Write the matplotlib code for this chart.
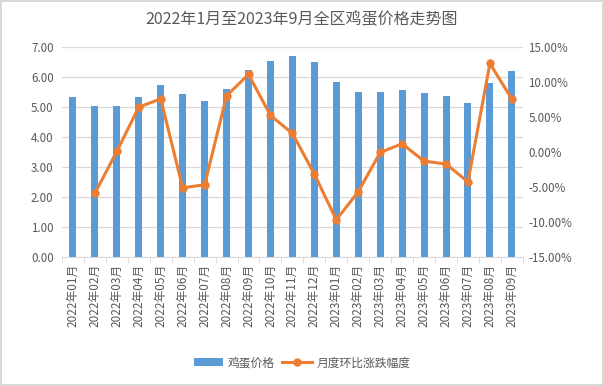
import numpy as np
import matplotlib.pyplot as plt
from matplotlib.ticker import FuncFormatter, MultipleLocator

plt.rcParams['font.family'] = ['Noto Sans CJK SC', 'DejaVu Sans']

# 数据
months = ['2022年01月', '2022年02月', '2022年03月', '2022年04月', '2022年05月', '2022年06月',
          '2022年07月', '2022年08月', '2022年09月', '2022年10月', '2022年11月', '2022年12月',
          '2023年01月', '2023年02月', '2023年03月', '2023年04月', '2023年05月', '2023年06月',
          '2023年07月', '2023年08月', '2023年09月']
price = [5.34, 5.04, 5.04, 5.34, 5.74, 5.44, 5.21, 5.61, 6.24, 6.54, 6.71, 6.50,
         5.83, 5.50, 5.50, 5.57, 5.47, 5.37, 5.13, 5.80, 6.20]
mom_change = [np.nan, -5.86, 0.09, 6.43, 7.60, -5.10, -4.67, 8.04, 11.10, 5.24, 2.67, -3.14,
              -9.67, -5.67, -0.05, 1.19, -1.29, -1.71, -4.24, 12.66, 7.57]

bar_color = '#5b9bd5'
line_color = '#ed7d31'
text_color = '#595959'
grid_color = '#d9d9d9'

fig = plt.figure(figsize=(6.04, 3.86), dpi=100)
fig.patch.set_edgecolor(grid_color)
fig.patch.set_linewidth(1.5)

ax = fig.add_axes([0.1026, 0.334, 0.763, 0.544])
x = np.arange(len(months))

bars = ax.bar(x, price, width=0.32, color=bar_color, label='鸡蛋价格', zorder=2)
ax.set_ylim(0, 7)
ax.set_xlim(-0.5, len(months) - 0.5)
ax.yaxis.set_major_locator(MultipleLocator(1))
ax.yaxis.set_major_formatter(FuncFormatter(lambda v, p: f'{v:.2f}'))
ax.grid(axis='y', color=grid_color, linewidth=0.9, zorder=0)
ax.set_axisbelow(True)

ax.set_xticks(x)
ax.set_xticklabels(months, rotation=90, fontsize=8.5, color=text_color)
ax.set_xticks(np.arange(-0.5, len(months)), minor=True)
ax.tick_params(axis='x', which='major', length=0, pad=5)
ax.tick_params(axis='x', which='minor', length=4, color=grid_color)
ax.tick_params(axis='y', length=0, labelsize=8.3, labelcolor=text_color, pad=6)
for s in ['top', 'left', 'right']:
    ax.spines[s].set_visible(False)
ax.spines['bottom'].set_color(grid_color)

ax2 = ax.twinx()
line, = ax2.plot(x, mom_change, color=line_color, linewidth=2.2, marker='o',
                 markersize=5, label='月度环比涨跌幅度', zorder=3)
ax2.set_ylim(-15, 15)
ax2.yaxis.set_major_locator(MultipleLocator(5))
ax2.yaxis.set_major_formatter(FuncFormatter(lambda v, p: f'{v:.2f}%'))
ax2.tick_params(axis='y', length=0, labelsize=8.3, labelcolor=text_color, pad=4)
for s in ['top', 'left', 'right', 'bottom']:
    ax2.spines[s].set_visible(False)

fig.suptitle('2022年1月至2023年9月全区鸡蛋价格走势图', y=0.972, fontsize=11.5, color=text_color)

fig.legend([bars, line], ['鸡蛋价格', '月度环比涨跌幅度'], loc='center',
           bbox_to_anchor=(0.5, 0.06), ncol=2, frameon=False, fontsize=8.5,
           labelcolor=text_color, handlelength=2.5, columnspacing=0.6, handletextpad=0.4)

fig.savefig('out.png', dpi=100, edgecolor=fig.get_edgecolor())
